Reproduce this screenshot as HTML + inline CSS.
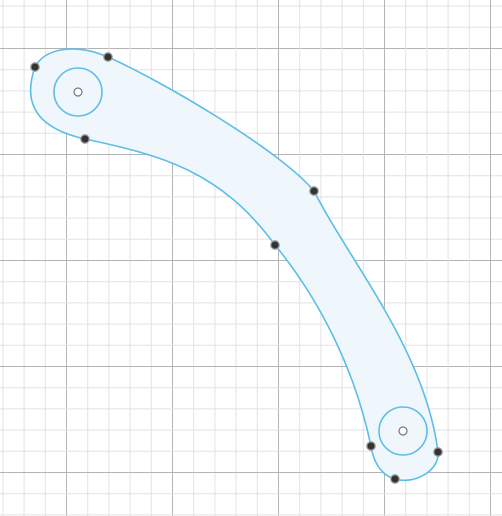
<!DOCTYPE html>
<html><head><style>
html,body{margin:0;padding:0;background:#fff;}
svg{display:block;}
</style></head><body>
<svg width="502" height="516" viewBox="0 0 502 516">
<g id="grid"></g>
<path fill="#eff7fd" stroke="#5ebde6" stroke-width="1.6"
 d="M35,67 C45,48 75,43 108,57 C160,80 280,150 314,191 C350,262 425,350 438,452 C440,470 415,485 395,479 C380,475 373,460 371,446 C355,370 320,300 275,245 C220,170 160,155 85,139 C45,130 20,110 35,67 Z"/>
<circle cx="78" cy="92" r="24" fill="none" stroke="#5ebde6" stroke-width="1.6"/>
<circle cx="403" cy="431" r="24" fill="none" stroke="#5ebde6" stroke-width="1.6"/>
<circle cx="78" cy="92" r="4" fill="#fff" stroke="#777" stroke-width="1.2"/>
<circle cx="403" cy="431" r="4" fill="#fff" stroke="#777" stroke-width="1.2"/>
<g id="pts"></g>
</svg>
<script>
const ns='http://www.w3.org/2000/svg';
const g=document.getElementById('grid');
const step=21.2;
for(let i=-3;i<25;i++){
  const x=66.5+i*step, y=48.5+i*step;
  const maj=(i%5===0);
  [['x',x],['y',y]].forEach(([t,v])=>{
    if(v<0||v>520)return;
    const l=document.createElementNS(ns,'line');
    
    
    if(t==='x'){l.setAttribute('x1',v);l.setAttribute('x2',v);l.setAttribute('y1',0);l.setAttribute('y2',516);}
    else{l.setAttribute('y1',v);l.setAttribute('y2',v);l.setAttribute('x1',0);l.setAttribute('x2',502);}
    l.setAttribute('stroke',maj?'#b4b4b4':'#e2e2e2');
    l.setAttribute('stroke-width','1');
    g.appendChild(l);
  });
}
const px=[35,108,314,438,395,371,275,85];
const py=[67,57,191,452,479,446,245,139];
const pts=document.getElementById('pts');
for(let i=0;i<px.length;i++){
  const c=document.createElementNS(ns,'circle');
  
  
  c.setAttribute('cx',px[i]);c.setAttribute('cy',py[i]);c.setAttribute('r','4.2');
  c.setAttribute('fill','#333');c.setAttribute('stroke','#999');c.setAttribute('stroke-width','1.3');
  pts.appendChild(c);
}
</script>
</body></html>
